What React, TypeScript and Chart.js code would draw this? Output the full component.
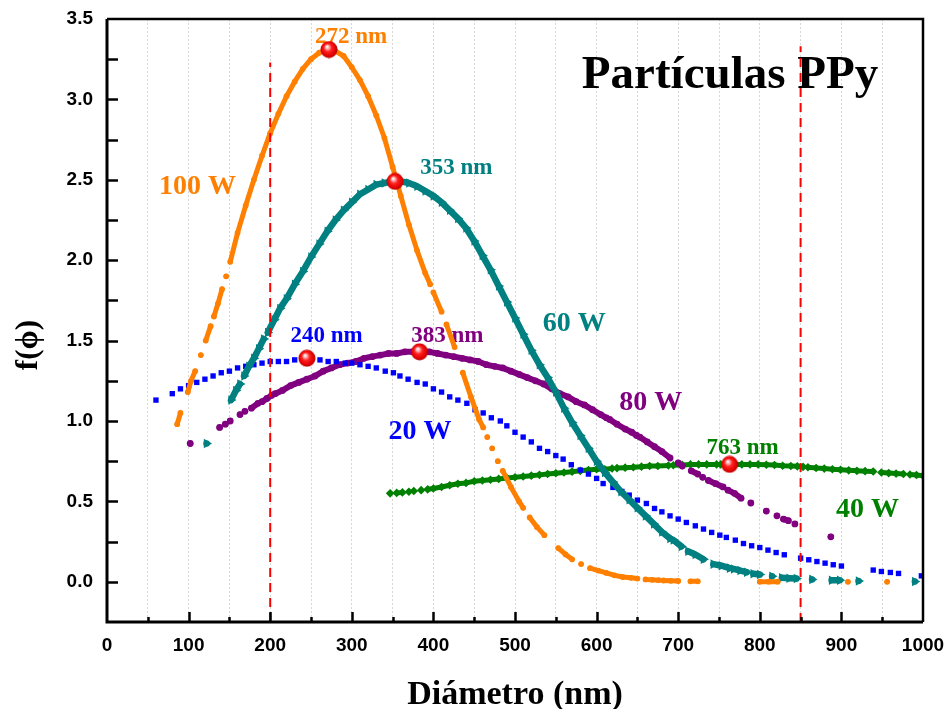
import React, { useEffect, useRef } from "react";
import { Chart, registerables } from "chart.js";

Chart.register(...registerables);

type Pt = [number, number];

const X_MIN = 0;
const X_MAX = 1000;
const Y_MIN = -0.25;
const Y_MAX = 3.5;

// 100 W (orange) — runs of points; points inside a run are joined
const runs100W: Pt[][] = [
  [[86, 0.98], [90, 1.05]],
  [[99, 1.18], [103, 1.25], [108, 1.31]],
  [[115, 1.41]],
  [[121, 1.5], [127, 1.59]],
  [[131, 1.65], [136, 1.73], [141, 1.82]],
  [[146, 1.9]],
  [[151, 1.99], [160, 2.17], [170, 2.34], [180, 2.5], [190, 2.65], [200, 2.79], [210, 2.91], [220, 3.02], [230, 3.11], [240, 3.19], [250, 3.25], [260, 3.29], [270, 3.31], [280, 3.3], [290, 3.27], [300, 3.2], [310, 3.12], [320, 3.02], [330, 2.9], [340, 2.76], [350, 2.58], [360, 2.4], [370, 2.22], [380, 2.06], [390, 1.92], [396, 1.85]],
  [[400, 1.8], [410, 1.68]],
  [[416, 1.6], [426, 1.46]],
  [[436, 1.3], [446, 1.15], [456, 1.01], [461, 0.96]],
  [[466, 0.9]],
  [[472, 0.83]],
  [[479, 0.75]],
  [[485, 0.69], [495, 0.59], [505, 0.5], [510, 0.46]],
  [[518, 0.4], [527, 0.34], [536, 0.29]],
  [[553, 0.21], [562, 0.17], [570, 0.14]],
  [[581, 0.11]],
  [[592, 0.085], [602, 0.07], [612, 0.055], [622, 0.04], [632, 0.03], [642, 0.025], [650, 0.02]],
  [[660, 0.015], [668, 0.012], [676, 0.01]],
  [[682, 0.008], [691, 0.006], [700, 0.005]],
  [[715, 0.003], [724, 0.003]],
  [[800, 0.001], [811, 0.001], [822, 0.001]],
  [[908, 0]],
  [[956, 0]],
];

// 60 W (teal)
const runs60W: Pt[][] = [
  [[122, 0.86]],
  [[152, 1.13], [158, 1.19], [163, 1.23]],
  [[168, 1.28], [174, 1.34], [180, 1.39], [186, 1.45], [192, 1.51]],
  [[197, 1.55], [205, 1.63], [212, 1.7], [220, 1.76], [230, 1.85], [240, 1.93], [250, 2.02], [260, 2.1], [270, 2.18], [280, 2.25], [290, 2.31], [300, 2.36], [310, 2.41], [320, 2.44], [330, 2.47], [340, 2.48], [350, 2.49], [360, 2.49], [370, 2.48], [380, 2.46], [390, 2.43], [400, 2.4], [410, 2.36], [420, 2.31], [430, 2.26], [440, 2.2], [450, 2.12], [460, 2.03], [470, 1.94], [480, 1.84], [490, 1.74], [500, 1.64], [510, 1.54], [520, 1.44], [530, 1.35], [540, 1.27], [550, 1.18], [560, 1.08], [570, 0.99], [580, 0.91], [590, 0.83], [600, 0.75], [610, 0.68], [620, 0.62], [630, 0.56], [640, 0.51], [650, 0.46], [660, 0.41], [670, 0.36], [680, 0.31], [690, 0.27]],
  [[694, 0.26], [704, 0.22]],
  [[712, 0.19], [721, 0.17], [731, 0.14]],
  [[743, 0.11], [753, 0.1], [763, 0.085]],
  [[768, 0.08], [776, 0.07], [784, 0.06]],
  [[792, 0.05], [800, 0.045]],
  [[815, 0.035]],
  [[827, 0.025], [836, 0.022], [845, 0.02]],
  [[864, 0.015]],
  [[888, 0.01], [898, 0.01]],
  [[921, 0.005]],
  [[990, 0.002]],
];

// 80 W (purple)
const runs80W: Pt[][] = [
  [[102, 0.86]],
  [[138, 0.96]],
  [[145, 0.98]],
  [[151, 1.0]],
  [[163, 1.04]],
  [[169, 1.06]],
  [[177, 1.08], [185, 1.11]],
  [[190, 1.12], [196, 1.14], [202, 1.16]],
  [[206, 1.17], [215, 1.19], [225, 1.22], [235, 1.24], [245, 1.26], [255, 1.28], [265, 1.31], [275, 1.33], [285, 1.35], [295, 1.36], [305, 1.37], [315, 1.39], [325, 1.4], [335, 1.41], [345, 1.42], [355, 1.42], [365, 1.43], [375, 1.43], [385, 1.43], [395, 1.43], [405, 1.42], [415, 1.41], [425, 1.4], [435, 1.39], [445, 1.38], [455, 1.37], [465, 1.35], [475, 1.34], [485, 1.33], [495, 1.31], [505, 1.29], [515, 1.27], [525, 1.25], [535, 1.23], [545, 1.2], [555, 1.17], [565, 1.15], [575, 1.12], [585, 1.1], [595, 1.07], [605, 1.04], [612, 1.02]],
  [[616, 1.01], [625, 0.98], [635, 0.95], [643, 0.93], [649, 0.91]],
  [[653, 0.9], [662, 0.87], [671, 0.84], [680, 0.81], [690, 0.77]],
  [[700, 0.74], [705, 0.72]],
  [[716, 0.69], [724, 0.67]],
  [[730, 0.65]],
  [[737, 0.63], [746, 0.61], [755, 0.59]],
  [[761, 0.57], [769, 0.55], [777, 0.52]],
  [[789, 0.49]],
  [[808, 0.44]],
  [[821, 0.41]],
  [[829, 0.39], [835, 0.38]],
  [[843, 0.36]],
  [[887, 0.28]],
];

// 20 W (blue) — separate squares
const points20W: Pt[] = [
  [60, 1.13], [80, 1.17], [90, 1.2], [100, 1.22], [110, 1.24], [120, 1.26], [130, 1.28], [140, 1.3], [150, 1.31], [160, 1.33],
  [170, 1.34], [180, 1.35], [190, 1.36], [200, 1.37], [210, 1.37], [220, 1.37], [230, 1.38], [240, 1.38], [261, 1.38], [271, 1.37],
  [281, 1.37], [292, 1.36], [300, 1.36], [310, 1.35], [320, 1.34], [330, 1.33], [341, 1.31], [351, 1.3], [359, 1.28], [369, 1.26],
  [380, 1.24], [390, 1.23], [400, 1.2], [410, 1.18], [420, 1.15], [430, 1.13], [441, 1.11], [451, 1.07], [461, 1.05], [471, 1.02],
  [482, 1.0], [490, 0.97], [500, 0.93], [510, 0.9], [520, 0.87], [530, 0.83], [540, 0.81], [550, 0.785], [559, 0.763], [569, 0.728],
  [580, 0.695], [590, 0.67], [600, 0.643], [608, 0.611], [620, 0.587], [631, 0.562], [640, 0.539], [650, 0.508], [661, 0.487], [671, 0.456],
  [680, 0.435], [690, 0.41], [700, 0.39], [710, 0.369], [721, 0.348], [731, 0.328], [741, 0.307], [751, 0.29], [759, 0.276], [770, 0.259],
  [780, 0.238], [790, 0.224], [800, 0.213], [810, 0.197], [820, 0.182], [830, 0.168], [850, 0.147], [860, 0.137], [870, 0.126], [880, 0.116],
  [890, 0.106], [900, 0.098], [939, 0.073], [949, 0.064], [960, 0.058], [970, 0.052], [998, 0.037],
];

// 40 W (green)
const runs40W: Pt[][] = [
  [[347, 0.55]],
  [[355, 0.553], [362, 0.556]],
  [[370, 0.56]],
  [[376, 0.565]],
  [[385, 0.57]],
  [[393, 0.575], [400, 0.58], [410, 0.59], [420, 0.6], [430, 0.61], [440, 0.615], [450, 0.625], [460, 0.63], [470, 0.635], [480, 0.64], [490, 0.645], [500, 0.65], [510, 0.655], [520, 0.66], [530, 0.665], [540, 0.67], [550, 0.675], [560, 0.68], [570, 0.685], [580, 0.69], [590, 0.695], [600, 0.7], [610, 0.7], [619, 0.705]],
  [[625, 0.707], [635, 0.71], [645, 0.712], [655, 0.716], [665, 0.72], [675, 0.72], [688, 0.723]],
  [[694, 0.725], [705, 0.727], [715, 0.73], [725, 0.73], [735, 0.73], [747, 0.73]],
  [[752, 0.73], [770, 0.73], [778, 0.73], [788, 0.73], [798, 0.73], [808, 0.728], [818, 0.726], [828, 0.722], [838, 0.72], [846, 0.718], [853, 0.715]],
  [[859, 0.712], [869, 0.708], [879, 0.704], [889, 0.7], [899, 0.697], [909, 0.693], [919, 0.69], [929, 0.688], [939, 0.686]],
  [[949, 0.68], [958, 0.676], [967, 0.673], [976, 0.67]],
  [[984, 0.667], [992, 0.664], [1000, 0.66]],
];

// peak markers
const peakX = [272, 353, 245, 383, 763];
const peakY = [3.31, 2.49, 1.39, 1.43, 0.73];

// red dashed guide lines
const guideX = [200, 850];
const guideTop = [3.23, 3.33];

// text annotations (x, y in data units; y = text baseline)
const noteText = ["Partículas PPy", "272 nm", "100 W", "353 nm", "60 W", "240 nm", "383 nm", "20 W", "80 W", "763 nm", "40 W"];
const noteX = [763.5, 299, 111, 428, 572.5, 269, 417, 383.6, 666.5, 779, 932];
const noteY = [3.07, 3.352, 2.41, 2.537, 1.557, 1.493, 1.493, 0.889, 1.068, 0.794, 0.404];

const ORANGE = "#ff8000";
const TEAL = "#008080";
const BLUE = "#0000ff";
const PURPLE = "#800080";
const GREEN = "#008000";
const RED = "#ff0000";

const noteColor = ["#000000", ORANGE, ORANGE, TEAL, TEAL, BLUE, PURPLE, BLUE, PURPLE, GREEN, GREEN];
const noteSize = [47, 23, 28, 23, 28, 23, 23, 28, 28, 23, 28];

const SERIF = '"Liberation Serif", "Times New Roman", serif';
const SANS = '"Liberation Sans", Arial, sans-serif';

function runsToData(runs: Pt[][]) {
  const out: { x: number; y: number | null }[] = [];
  runs.forEach((run, i) => {
    if (i > 0) out.push({ x: run[0][0], y: null });
    run.forEach(([x, y]) => out.push({ x, y }));
  });
  return out;
}

function makeSphere(): HTMLCanvasElement {
  const c = document.createElement("canvas");
  c.width = 18;
  c.height = 18;
  const g = c.getContext("2d")!;
  const grad = g.createRadialGradient(7, 6, 0.3, 9, 9, 9);
  grad.addColorStop(0, "#ffffff");
  grad.addColorStop(0.18, "#ffb0b0");
  grad.addColorStop(0.42, "#ff2020");
  grad.addColorStop(0.8, "#e00000");
  grad.addColorStop(1, "#a00000");
  g.fillStyle = grad;
  g.beginPath();
  g.arc(9, 9, 8.5, 0, Math.PI * 2);
  g.fill();
  return c;
}

const decorPlugin = {
  id: "decor",
  beforeDatasetsDraw(chart: any) {
    const { ctx, scales } = chart;
    const xs = scales.x;
    const ys = scales.y;
    ctx.save();
    ctx.textAlign = "center";
    ctx.textBaseline = "alphabetic";
    noteText.forEach((t, i) => {
      ctx.font = `bold ${noteSize[i]}px ${SERIF}`;
      ctx.fillStyle = noteColor[i];
      ctx.fillText(t, xs.getPixelForValue(noteX[i]), ys.getPixelForValue(noteY[i]));
    });
    ctx.restore();
  },
  afterDraw(chart: any) {
    const { ctx, chartArea, scales } = chart;
    const { left, right, top, bottom } = chartArea;
    const xs = scales.x;
    const ys = scales.y;
    ctx.save();
    ctx.strokeStyle = "#000";
    ctx.lineCap = "butt";
    ctx.lineWidth = 2.5;
    xs.ticks.forEach((t: any) => {
      const v = t.value;
      if (v <= X_MIN || v >= X_MAX) return;
      const px = Math.round(xs.getPixelForValue(v)) + 0.5;
      const len = Math.abs(v % 100) < 1e-6 ? 10 : 5;
      ctx.beginPath();
      ctx.moveTo(px, bottom);
      ctx.lineTo(px, bottom - len);
      ctx.stroke();
    });
    ys.ticks.forEach((t: any) => {
      const v = t.value;
      if (v <= Y_MIN + 1e-6 || v >= Y_MAX - 1e-6) return;
      const py = Math.round(ys.getPixelForValue(v)) + 0.5;
      ctx.beginPath();
      ctx.moveTo(left, py);
      ctx.lineTo(left + 11, py);
      ctx.stroke();
    });
    ctx.lineWidth = 3;
    ctx.beginPath();
    ctx.moveTo(left, top);
    ctx.lineTo(left, bottom);
    ctx.lineTo(right, bottom);
    ctx.stroke();
    ctx.lineWidth = 2.5;
    ctx.beginPath();
    ctx.moveTo(left, top);
    ctx.lineTo(right, top);
    ctx.lineTo(right, bottom);
    ctx.stroke();

    ctx.fillStyle = "#000";
    ctx.textAlign = "center";
    ctx.textBaseline = "alphabetic";
    ctx.font = `bold 34px ${SERIF}`;
    ctx.fillText("Diámetro (nm)", (left + right) / 2, 704);
    ctx.translate(37, 345);
    ctx.rotate(-Math.PI / 2);
    ctx.font = `bold 31px ${SERIF}`;
    ctx.fillText("f(\u03D5)", 0, 0);
    ctx.restore();
  },
};

export default function App() {
  const canvasRef = useRef<HTMLCanvasElement | null>(null);

  useEffect(() => {
    const canvas = canvasRef.current;
    if (!canvas) return;
    const sphere = makeSphere();

    const lineCommon = {
      showLine: true,
      spanGaps: false,
      borderCapStyle: "round" as const,
      borderJoinStyle: "round" as const,
      pointBorderWidth: 0,
    };

    const datasets: any[] = [
      {
        label: "peaks",
        data: peakX.map((x, i) => ({ x, y: peakY[i] })),
        pointStyle: sphere,
        pointRadius: 9,
        showLine: false,
        order: 0,
      },
      ...guideX.map((gx, i) => ({
        label: "guide" + i,
        data: [
          { x: gx, y: Y_MIN },
          { x: gx, y: guideTop[i] },
        ],
        showLine: true,
        borderColor: RED,
        borderWidth: 2,
        borderDash: [9, 6],
        pointRadius: 0,
        order: 1,
      })),
      {
        label: "100 W",
        data: runsToData(runs100W),
        ...lineCommon,
        borderColor: ORANGE,
        borderWidth: 5,
        backgroundColor: ORANGE,
        pointBackgroundColor: ORANGE,
        pointStyle: "circle",
        pointRadius: 2.9,
        order: 2,
      },
      {
        label: "60 W",
        data: runsToData(runs60W),
        ...lineCommon,
        borderColor: TEAL,
        borderWidth: 6.5,
        backgroundColor: TEAL,
        pointBackgroundColor: TEAL,
        pointStyle: "triangle",
        pointRotation: 90,
        pointRadius: 5.5,
        order: 3,
      },
      {
        label: "20 W",
        data: points20W.map(([x, y]) => ({ x, y })),
        showLine: false,
        backgroundColor: BLUE,
        pointBackgroundColor: BLUE,
        pointBorderWidth: 0,
        pointStyle: "rect",
        pointRadius: 3.8,
        order: 4,
      },
      {
        label: "80 W",
        data: runsToData(runs80W),
        ...lineCommon,
        borderColor: PURPLE,
        borderWidth: 6,
        backgroundColor: PURPLE,
        pointBackgroundColor: PURPLE,
        pointStyle: "circle",
        pointRadius: 3.4,
        order: 5,
      },
      {
        label: "40 W",
        data: runsToData(runs40W),
        ...lineCommon,
        borderColor: GREEN,
        borderWidth: 5,
        backgroundColor: GREEN,
        pointBackgroundColor: GREEN,
        pointStyle: "rectRot",
        pointRadius: 4.3,
        order: 6,
      },
    ];

    const chart = new Chart(canvas, {
      type: "scatter",
      data: { datasets },
      options: {
        responsive: false,
        animation: false,
        events: [],
        layout: { padding: { top: 19, right: 28, left: 0, bottom: 0 } },
        plugins: {
          legend: { display: false },
          tooltip: { enabled: false },
          title: { display: false },
        },
        scales: {
          x: {
            type: "linear",
            min: X_MIN,
            max: X_MAX,
            afterFit: (s: any) => {
              s.height = 87;
              s.paddingLeft = 0;
              s.paddingRight = 0;
            },
            ticks: {
              stepSize: 50,
              autoSkip: false,
              maxRotation: 0,
              padding: 12,
              color: "#000",
              font: { family: SANS, size: 19, weight: "bold" },
              callback: (v: any) => (Math.abs(Number(v) % 100) < 1e-6 ? String(v) : ""),
            },
            grid: {
              color: "rgba(0,0,0,0.16)",
              lineWidth: 1,
              drawTicks: false,
            },
            border: { display: false, dash: [2, 2] },
          },
          y: {
            type: "linear",
            min: Y_MIN,
            max: Y_MAX,
            afterFit: (s: any) => {
              s.width = 107;
              s.paddingTop = 0;
              s.paddingBottom = 0;
            },
            ticks: {
              stepSize: 0.25,
              autoSkip: false,
              padding: 14,
              color: "#000",
              font: { family: SANS, size: 19, weight: "bold" },
              callback: (v: any) => {
                const n = Number(v);
                return n >= 0 && Math.abs(n * 2 - Math.round(n * 2)) < 1e-6 ? n.toFixed(1) : "";
              },
            },
            grid: { display: false, drawTicks: false },
            border: { display: false },
          },
        },
      } as any,
      plugins: [decorPlugin],
    });

    return () => chart.destroy();
  }, []);

  return (
    <div style={{ position: "absolute", left: 0, top: 0, width: 951, height: 709, background: "#fff" }}>
      <canvas ref={canvasRef} width={951} height={709} style={{ display: "block" }} />
    </div>
  );
}
